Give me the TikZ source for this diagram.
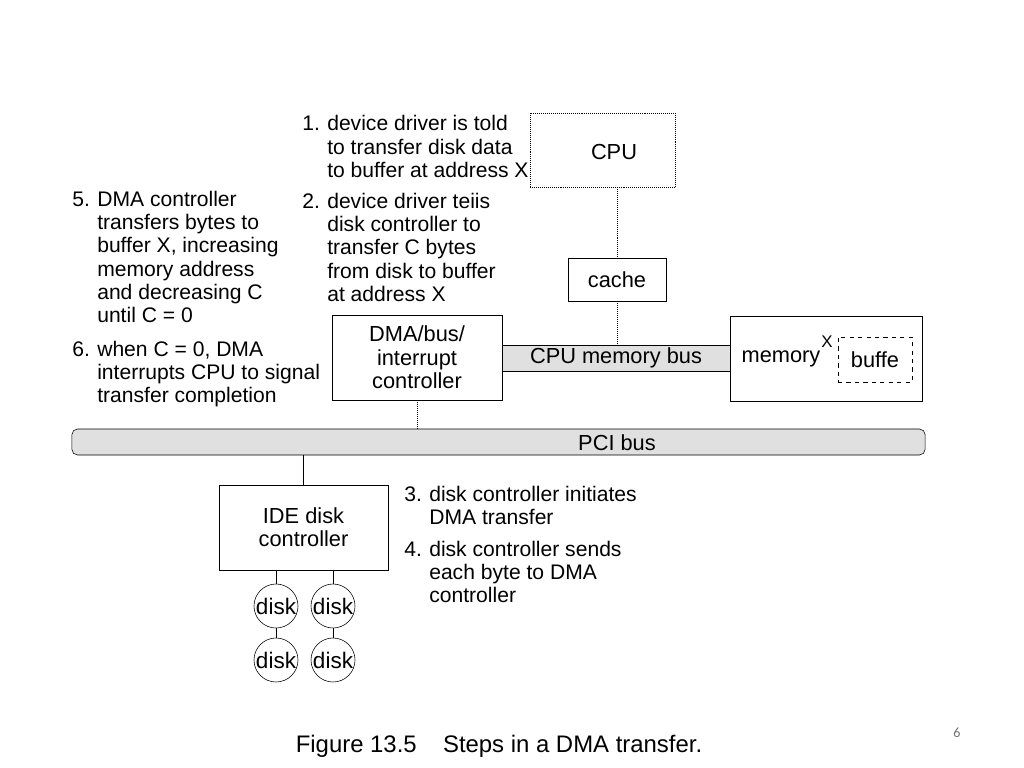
\documentclass[tikz,border=0pt]{standalone}
\usepackage{fontspec}
\setmainfont{Liberation Sans}
\newfontfamily\slidefont{Carlito}
\usetikzlibrary{calc,positioning}

\begin{document}
\begin{tikzpicture}[x=0.025cm,y=-0.025cm]

\tikzset{box/.style={draw,thin,align=center,inner sep=0pt,font=\fontsize{15.5}{16.6}\selectfont},
boxtext/.style={inner sep=0pt,font=\fontsize{15.5}{16.6}\selectfont},
bus/.style={draw,thin,fill=black!12,inner sep=0pt,minimum height=0.65cm,font=\fontsize{15.5}{16.6}\selectfont},
disk/.style={draw,thin,circle,minimum size=1.1cm,inner sep=0pt,font=\fontsize{16}{18}\selectfont},
wire/.style={thin,densely dotted},
note/.style={anchor=base west,inner sep=0pt,font=\fontsize{15}{16.6}\selectfont}}

\useasboundingbox (0,0) rectangle (1024,768);

% Boxes
\node [box,densely dotted,minimum width=3.625cm,minimum height=1.85cm] (cpu) at (602.5,150) {};
\node [boxtext] (cpulbl) at (614,152) {CPU};
\node [box,minimum width=2.45cm,minimum height=1.075cm] (cache) at (617,279.5) {cache};
\node [box,minimum width=4.25cm,minimum height=2.125cm] (dma) at (417,357.5) {DMA/bus/\\interrupt\\controller};
\node [box,minimum width=4.8cm,minimum height=2.125cm] (mem) at (826,358.5) {};
\node [boxtext] (memlbl) at (781,359) {memory};
\node [box,dashed,minimum width=1.85cm,minimum height=1.125cm] (buf) at (875,359.5) {buffe};
\node [inner sep=0pt,font=\fontsize{12}{14}\selectfont] (xlbl) at (827,342) {X};
\node [box,minimum width=4.225cm,minimum height=2.125cm] (ide) at (303.5,527.5) {IDE disk\\controller};

% Buses
\node [bus,minimum width=5.7cm] (cpubus) at (616,358) {CPU memory bus};
\node [bus,rounded corners=4pt,minimum width=21.325cm] (pcibus) at (498.5,442) {};
\node [boxtext] (pcilbl) at (617,443) {PCI bus};

% Disks
\node [disk] (d1) at (276,606) {disk};
\node [disk] (d2) at (333,606) {disk};
\node [disk] (d3) at (276,660) {disk};
\node [disk] (d4) at (333,660) {disk};

% Edges
\draw [wire] (cpu.south -| cache.north) -- (cache.north);
\draw [wire] (cache.south) -- (cache.south |- cpubus.north);
\draw [wire] (dma.south) -- (dma.south |- pcibus.north);
\draw (ide.north) -- (ide.north |- pcibus.south);
\draw (ide.south -| d1) -- (d1.north); \draw (ide.south -| d2) -- (d2.north);
\draw (d1.south) -- (d3.north); \draw (d2.south) -- (d4.north);

% Steps
\node [note] (n1) at (302,131) {\begin{tabular}[t]{@{}p{0.625cm}@{}l@{}}1. & device driver is told\\ & to transfer disk data\\ & to buffer at address X\end{tabular}};
\node [note] (n2) at (302,208) {\begin{tabular}[t]{@{}p{0.625cm}@{}l@{}}2. & device driver teiis\\ & disk controller to\\ & transfer C bytes\\ & from disk to buffer\\ & at address X\end{tabular}};
\node [note] (n5) at (72,206) {\begin{tabular}[t]{@{}p{0.625cm}@{}l@{}}5. & DMA controller\\ & transfers bytes to\\ & buffer X, increasing\\ & memory address\\ & and decreasing C\\ & until C = 0\end{tabular}};
\node [note] (n6) at (72,356) {\begin{tabular}[t]{@{}p{0.625cm}@{}l@{}}6. & when C = 0, DMA\\ & interrupts CPU to signal\\ & transfer completion\end{tabular}};
\node [note] (n3) at (404,501) {\begin{tabular}[t]{@{}p{0.625cm}@{}l@{}}3. & disk controller initiates\\ & DMA transfer\end{tabular}};
\node [note] (n4) at (404,556) {\begin{tabular}[t]{@{}p{0.625cm}@{}l@{}}4. & disk controller sends\\ & each byte to DMA\\ & controller\end{tabular}};

% Caption
\node [anchor=base,inner sep=0pt,font=\fontsize{17}{19}\selectfont] (caption) at (499,752) {Figure 13.5\hspace{14pt} Steps in a DMA transfer.};
\node [inner sep=0pt,text=black!55,font=\slidefont\fontsize{10}{12}\selectfont] (pageno) at (957,733) {6};

\end{tikzpicture}
\end{document}
